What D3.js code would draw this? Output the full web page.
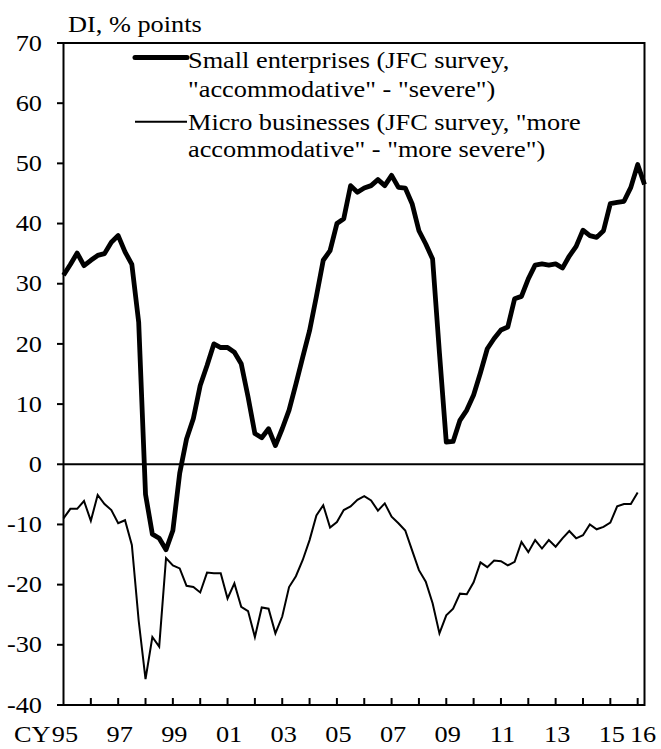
<!DOCTYPE html>
<html>
<head>
<meta charset="utf-8">
<script src="https://cdn.jsdelivr.net/npm/d3@7"></script>
<style>
  html, body { margin: 0; padding: 0; background: #fff; }
  svg { display: block; }
  text { font-family: "Liberation Serif", "Times New Roman", serif; fill: #000; }
</style>
</head>
<body>
<svg id="chart" width="661" height="749"></svg>
<script>
// Quarterly observations, 1995Q1 onwards
const years = [1995, 1996, 1997, 1998, 1999, 2000, 2001, 2002, 2003, 2004, 2005,
               2006, 2007, 2008, 2009, 2010, 2011, 2012, 2013, 2014, 2015, 2016];
const quarterNames = ["Q1", "Q2", "Q3", "Q4"];
const quarters = years.flatMap(y => quarterNames.map(q => y + q)).slice(0, 86);

// Small enterprises: "accommodative" - "severe"
const smallEnterprises = [
  31.4, 33.2, 35.1, 33.0, 33.9, 34.7, 35.0, 36.9, 38.0, 35.3,
  33.2, 23.6, -5.0, -11.6, -12.3, -14.2, -11.0, -1.5, 4.2, 7.6,
  13.1, 16.4, 20.0, 19.4, 19.4, 18.6, 16.7, 11.2, 5.1, 4.4,
  5.9, 3.1, 5.9, 9.0, 13.3, 17.8, 22.2, 27.9, 33.9, 35.5,
  40.0, 40.8, 46.3, 45.2, 45.9, 46.3, 47.3, 46.3, 48.0, 46.0,
  45.9, 43.3, 38.8, 36.6, 34.1, 18.5, 3.7, 3.8, 7.3, 9.0,
  11.5, 15.2, 19.2, 20.9, 22.3, 22.8, 27.5, 27.9, 30.8, 33.1,
  33.3, 33.1, 33.3, 32.6, 34.6, 36.2, 38.9, 38.0, 37.7, 38.8,
  43.3, 43.5, 43.7, 46.0, 49.8, 46.5
];

// Micro businesses: "more accommodative" - "more severe"
const microBusinesses = [
  -9.0, -7.4, -7.4, -6.1, -9.4, -5.1, -6.6, -7.6, -9.8, -9.3,
  -13.4, -26.0, -35.7, -28.7, -30.3, -15.6, -16.8, -17.3, -20.2, -20.4,
  -21.3, -18.0, -18.1, -18.1, -22.3, -19.8, -23.7, -24.4, -28.7, -23.8,
  -24.0, -28.1, -25.3, -20.4, -18.6, -15.9, -12.6, -8.5, -6.8, -10.5,
  -9.6, -7.6, -7.0, -5.9, -5.3, -6.0, -7.7, -6.5, -8.7, -9.8,
  -11.0, -14.3, -17.6, -19.5, -23.1, -28.1, -25.1, -24.0, -21.5, -21.6,
  -19.6, -16.3, -17.1, -16.0, -16.1, -16.8, -16.2, -12.9, -14.6, -12.6,
  -14.0, -12.6, -13.7, -12.3, -11.1, -12.3, -11.8, -10.0, -10.8, -10.4,
  -9.7, -7.0, -6.6, -6.6, -4.7
];

const yTicks = [-40, -30, -20, -10, 0, 10, 20, 30, 40, 50, 60, 70];
const xLabelYears = [1995, 1997, 1999, 2001, 2003, 2005, 2007, 2009, 2011, 2013, 2015, 2016];
const xTickLabels = ["95", "97", "99", "01", "03", "05", "07", "09", "11", "13", "15", "16"];
const axisTitle = "DI, % points";
const calendarPrefix = "CY";

const legendItems = [
  { lines: ["Small enterprises (JFC survey,", "\"accommodative\" - \"severe\")"], width: 5 },
  { lines: ["Micro businesses (JFC survey, \"more", "accommodative\" - \"more severe\")"], width: 2 }
];

// ---- layout ----
const plot = { left: 63.5, right: 644.5, top: 43, bottom: 705 };
const fontSize = 22.5;
const stretch = 1.17;   // horizontal widening of the serif lettering

const svg = d3.select("#chart");

const x = d3.scalePoint().domain(quarters).range([plot.left, plot.right]).padding(0);
const y = d3.scaleLinear().domain([-40, 70]).range([plot.bottom, plot.top]);

function label(g, txt, px, py, anchor) {
  return g.append("text")
    .attr("transform", `translate(${px},${py}) scale(${stretch},1)`)
    .attr("text-anchor", anchor || "start")
    .style("font-size", fontSize + "px")
    .text(txt);
}

// zero line
svg.append("line")
  .attr("x1", plot.left).attr("x2", plot.right)
  .attr("y1", y(0)).attr("y2", y(0))
  .attr("stroke", "#000").attr("stroke-width", 2);

// series lines
const line = d3.line()
  .x((d, i) => x(quarters[i]))
  .y(d => y(d));

svg.append("path")
  .datum(microBusinesses)
  .attr("d", line)
  .attr("fill", "none").attr("stroke", "#000")
  .attr("stroke-width", 2).attr("stroke-linejoin", "miter").attr("stroke-miterlimit", 6);

svg.append("path")
  .datum(smallEnterprises)
  .attr("d", line)
  .attr("fill", "none").attr("stroke", "#000")
  .attr("stroke-width", 4.8).attr("stroke-linejoin", "round");

// frame
svg.append("rect")
  .attr("x", plot.left).attr("y", plot.top)
  .attr("width", plot.right - plot.left).attr("height", plot.bottom - plot.top)
  .attr("fill", "none").attr("stroke", "#000").attr("stroke-width", 2);

// y axis ticks and labels
const yAxis = svg.append("g");
yAxis.selectAll("line").data(yTicks).join("line")
  .attr("x1", plot.left - 6.5).attr("x2", plot.left)
  .attr("y1", d => y(d)).attr("y2", d => y(d))
  .attr("stroke", "#000").attr("stroke-width", 2);
yTicks.forEach(v => label(yAxis, String(v), 42, y(v) + 7.6, "end"));

// x axis: a tick at the first quarter of each year
const yearStarts = years.slice(1).map(yr => yr + "Q1");
const xAxis = svg.append("g");
xAxis.selectAll("line").data(yearStarts).join("line")
  .attr("x1", d => x(d)).attr("x2", d => x(d))
  .attr("y1", plot.bottom).attr("y2", plot.bottom - 7)
  .attr("stroke", "#000").attr("stroke-width", 2);

const xLabelBase = 741.5;
xLabelYears.forEach((yr, k) => {
  const last = k === xLabelYears.length - 1;
  const px = x(yr + "Q1") + (last ? 5.4 : 1.5);
  label(xAxis, xTickLabels[k], px, xLabelBase, "middle");
});
label(xAxis, calendarPrefix, x(quarters[0]) - 13, xLabelBase, "end");

// axis title
label(svg, axisTitle, 68, 32.3, "start");

// legend
const legend = svg.append("g");
const legendRows = [
  { sampleY: 57.5, baselines: [68.3, 96.7] },
  { sampleY: 121.7, baselines: [130, 156.7] }
];
legendItems.forEach((item, k) => {
  const row = legendRows[k];
  legend.append("line")
    .attr("x1", 135).attr("x2", 187)
    .attr("y1", row.sampleY).attr("y2", row.sampleY)
    .attr("stroke", "#000").attr("stroke-width", item.width)
    .attr("stroke-linecap", item.width > 3 ? "round" : "butt");
  item.lines.forEach((t, j) => label(legend, t, 188, row.baselines[j], "start"));
});
</script>
</body>
</html>
